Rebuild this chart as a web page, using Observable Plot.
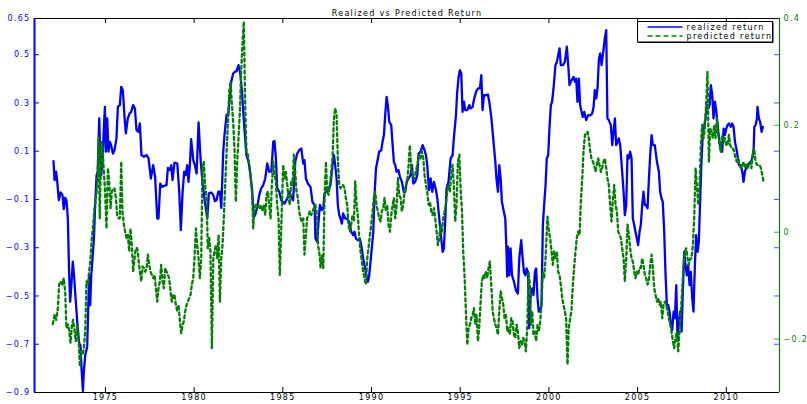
<!DOCTYPE html>
<html><head><meta charset="utf-8">
<script src="https://cdn.jsdelivr.net/npm/d3@7"></script>
<script src="https://cdn.jsdelivr.net/npm/@observablehq/plot@0.6"></script>
<style>
html,body{margin:0;padding:0;background:#fff;}
#chart svg text{letter-spacing:1.3px;}
</style></head><body><div id="chart"></div>
<script>
const title = "Realized vs Predicted Return";
const seriesNames = ["realized return", "predicted return"];
const xTicks = [1975, 1980, 1985, 1990, 1995, 2000, 2005, 2010];
const leftTicks = [-0.9, -0.7, -0.5, -0.3, -0.1, 0.1, 0.3, 0.5, 0.65];
const rightTicks = [-0.2, 0, 0.2, 0.4];
const xDomain = [1971, 2013];
const leftDomain = [-0.9, 0.65];
const rightDomain = [-0.3, 0.4];

// realized return (left axis): [year, value]
const realized = [
[1972.07,0.059],[1972.13,-0.02],[1972.22,0.015],[1972.28,-0.024],[1972.37,-0.103],[1972.47,-0.071],[1972.58,-0.082],[1972.65,-0.14],[1972.73,-0.093],[1972.80,-0.103],[1972.88,-0.179],[1972.95,-0.40],[1973.01,-0.524],[1973.09,-0.441],[1973.16,-0.358],[1973.24,-0.427],[1973.33,-0.524],[1973.42,-0.62],[1973.52,-0.697],[1973.59,-0.704],[1973.65,-0.80],[1973.73,-0.894],[1973.78,-0.814],[1973.86,-0.745],[1973.97,-0.71],[1974.03,-0.55],[1974.08,-0.414],[1974.14,-0.538],[1974.20,-0.414],[1974.27,-0.344],[1974.35,-0.262],[1974.42,-0.123],[1974.50,0.001],[1974.57,0.015],[1974.65,0.236],[1974.70,0.098],[1974.76,0.001],[1974.83,0.056],[1974.91,0.194],[1974.97,0.284],[1975.02,0.098],[1975.10,0.236],[1975.17,0.098],[1975.25,0.139],[1975.32,0.125],[1975.42,0.09],[1975.51,0.104],[1975.62,0.153],[1975.70,0.284],[1975.81,0.291],[1975.89,0.367],[1975.98,0.353],[1976.08,0.236],[1976.15,0.174],[1976.26,0.236],[1976.36,0.256],[1976.45,0.263],[1976.56,0.291],[1976.66,0.277],[1976.75,0.187],[1976.86,0.18],[1976.94,0.215],[1977.03,0.084],[1977.17,0.077],[1977.32,0.084],[1977.43,0.07],[1977.56,-0.013],[1977.69,0.042],[1977.80,-0.006],[1977.92,-0.179],[1977.99,-0.179],[1978.09,-0.034],[1978.18,-0.048],[1978.33,-0.043],[1978.44,-0.041],[1978.52,0.031],[1978.63,0.022],[1978.71,0.042],[1978.78,-0.02],[1978.89,0.053],[1979.05,0.049],[1979.16,-0.068],[1979.25,-0.227],[1979.35,-0.068],[1979.44,0.015],[1979.52,0.001],[1979.61,0.042],[1979.68,-0.027],[1979.76,0.042],[1979.83,0.15],[1979.95,0.063],[1980.04,0.042],[1980.14,0.008],[1980.25,0.219],[1980.36,0.07],[1980.45,-0.013],[1980.59,-0.103],[1980.74,-0.179],[1980.83,-0.075],[1980.96,-0.071],[1981.08,-0.082],[1981.17,-0.107],[1981.26,-0.103],[1981.36,-0.068],[1981.45,-0.068],[1981.53,-0.135],[1981.64,0.098],[1981.71,0.167],[1981.83,0.252],[1981.92,0.249],[1982.00,0.319],[1982.09,0.388],[1982.20,0.422],[1982.30,0.429],[1982.39,0.432],[1982.50,0.457],[1982.60,0.422],[1982.69,0.353],[1982.77,0.263],[1982.86,0.167],[1982.95,0.084],[1983.07,0.056],[1983.16,0.008],[1983.26,-0.054],[1983.37,-0.172],[1983.44,-0.165],[1983.56,-0.13],[1983.67,-0.082],[1983.78,-0.054],[1983.89,-0.041],[1984.01,-0.013],[1984.12,0.049],[1984.23,0.015],[1984.35,0.015],[1984.46,0.139],[1984.53,0.142],[1984.61,0.07],[1984.68,-0.054],[1984.80,-0.068],[1984.91,-0.103],
[1985.10,-0.117],[1985.25,-0.096],[1985.36,-0.068],[1985.47,-0.089],[1985.58,-0.103],[1985.70,0.056],[1985.81,0.09],[1985.92,0.104],[1986.04,0.111],[1986.15,0.049],[1986.22,0.063],[1986.30,-0.013],[1986.41,-0.034],[1986.56,-0.048],[1986.67,-0.11],[1986.79,-0.123],[1986.84,-0.262],[1986.94,-0.276],[1987.01,-0.193],[1987.09,-0.123],[1987.20,-0.144],[1987.28,-0.137],[1987.35,-0.075],[1987.46,-0.068],[1987.58,-0.054],[1987.69,-0.041],[1987.80,0.042],[1987.88,0.084],[1987.95,0.042],[1988.03,-0.013],[1988.10,-0.123],[1988.18,-0.165],[1988.25,-0.179],[1988.33,-0.2],[1988.40,-0.158],[1988.52,-0.179],[1988.63,-0.179],[1988.74,-0.193],[1988.86,-0.234],[1988.97,-0.248],[1989.04,-0.234],[1989.12,-0.262],[1989.23,-0.269],[1989.34,-0.262],[1989.42,-0.289],[1989.53,-0.344],[1989.64,-0.386],[1989.72,-0.42],[1989.80,-0.441],[1989.87,-0.414],[1989.98,-0.33],[1990.10,-0.234],[1990.17,-0.082],[1990.25,0.028],[1990.36,0.07],[1990.43,0.098],[1990.55,0.104],[1990.62,0.139],[1990.70,0.167],[1990.77,0.249],[1990.85,0.325],[1990.92,0.291],[1991.00,0.222],[1991.11,0.208],[1991.19,0.125],[1991.26,0.056],[1991.34,0.042],[1991.41,0.015],[1991.52,0.022],[1991.60,-0.006],[1991.71,-0.027],[1991.82,-0.068],[1991.90,-0.068],[1991.98,-0.027],[1992.09,-0.013],[1992.20,0.001],[1992.28,0.042],[1992.35,-0.034],[1992.46,-0.027],[1992.58,0.001],[1992.65,0.09],[1992.77,0.098],[1992.88,0.125],[1992.99,0.104],[1993.07,0.084],[1993.14,0.042],[1993.24,-0.061],[1993.33,-0.013],[1993.42,-0.068],[1993.52,-0.027],[1993.63,-0.061],[1993.71,-0.096],[1993.82,-0.179],[1993.93,-0.262],[1994.01,-0.317],[1994.08,-0.303],[1994.16,-0.179],[1994.23,-0.054],[1994.34,-0.027],[1994.46,0.07],[1994.57,0.084],[1994.64,0.153],[1994.76,0.249],[1994.83,0.346],[1994.91,0.408],[1994.98,0.436],[1995.06,0.422],[1995.13,0.263],[1995.21,0.305],[1995.28,0.27],[1995.40,0.27],[1995.51,0.291],[1995.58,0.277],[1995.70,0.284],[1995.77,0.312],[1995.89,0.346],[1996.00,0.36],[1996.11,0.36],[1996.19,0.415],[1996.26,0.27],[1996.34,0.332],[1996.45,0.332],[1996.56,0.335],[1996.64,0.305],[1996.75,0.242],[1996.86,0.153],[1996.98,0.056],[1997.05,-0.02],[1997.13,-0.068],[1997.20,0.042],[1997.28,-0.013],[1997.35,-0.11],[1997.46,-0.151],[1997.54,-0.179],[1997.61,-0.317],[1997.65,-0.42],[1997.69,-0.296],[1997.77,-0.414],[1997.84,-0.303],[1997.92,-0.414],[1998.03,-0.441],[1998.14,-0.476],[1998.25,-0.49],[1998.33,-0.344],[1998.44,-0.269],[1998.52,-0.344],[1998.59,-0.40],[1998.67,-0.414],[1998.74,-0.386],[1998.82,-0.40],[1998.89,-0.634],
[1998.98,-0.483],[1999.06,-0.469],[1999.13,-0.496],[1999.21,-0.40],[1999.28,-0.386],[1999.36,-0.51],[1999.43,-0.565],[1999.51,-0.565],[1999.58,-0.538],[1999.66,-0.206],[1999.73,-0.123],[1999.81,-0.041],[1999.88,0.07],[1999.96,0.084],[2000.03,0.194],[2000.11,0.291],[2000.18,0.305],[2000.26,0.36],[2000.37,0.457],[2000.45,0.47],[2000.52,0.498],[2000.60,0.526],[2000.67,0.457],[2000.79,0.457],[2000.90,0.47],[2001.01,0.533],[2001.09,0.457],[2001.16,0.374],[2001.27,0.394],[2001.39,0.408],[2001.46,0.388],[2001.54,0.401],[2001.61,0.305],[2001.69,0.401],[2001.76,0.291],[2001.84,0.263],[2001.91,0.242],[2001.99,0.263],[2002.10,0.229],[2002.21,0.249],[2002.33,0.249],[2002.44,0.256],[2002.52,0.284],[2002.59,0.353],[2002.67,0.319],[2002.74,0.36],[2002.82,0.484],[2002.89,0.505],[2002.97,0.457],[2003.04,0.498],[2003.15,0.567],[2003.23,0.602],[2003.30,0.236],[2003.38,0.229],[2003.49,0.208],[2003.57,0.125],[2003.64,0.18],[2003.72,0.236],[2003.79,0.125],[2003.87,0.139],[2003.94,0.153],[2004.02,0.125],[2004.13,0.015],[2004.21,-0.068],[2004.28,-0.165],[2004.36,-0.123],[2004.43,0.084],[2004.51,0.07],[2004.58,0.098],[2004.66,0.07],[2004.73,-0.179],[2004.81,-0.206],[2004.88,-0.234],[2004.96,-0.262],[2005.03,-0.289],[2005.11,-0.234],[2005.18,-0.206],[2005.26,-0.123],[2005.33,-0.068],[2005.41,-0.123],[2005.48,-0.123],[2005.56,-0.137],[2005.63,-0.027],[2005.71,0.084],[2005.79,0.167],[2005.86,0.125],[2005.97,0.125],[2006.09,0.056],[2006.20,0.015],[2006.27,-0.068],[2006.35,-0.096],[2006.42,-0.11],[2006.50,-0.234],[2006.57,-0.40],[2006.65,-0.538],[2006.73,-0.538],[2006.80,-0.565],[2006.88,-0.62],[2006.95,-0.641],[2007.03,-0.565],[2007.10,-0.593],[2007.18,-0.455],[2007.25,-0.676],[2007.33,-0.607],[2007.40,-0.565],[2007.48,-0.648],[2007.55,-0.483],[2007.63,-0.317],[2007.70,-0.372],[2007.78,-0.414],[2007.85,-0.372],[2007.93,-0.455],[2008.00,-0.40],[2008.08,-0.51],[2008.15,-0.565],[2008.23,-0.372],[2008.30,-0.248],[2008.38,-0.317],[2008.45,-0.276],[2008.53,-0.096],[2008.60,0.056],[2008.68,0.18],[2008.76,0.208],[2008.83,0.236],[2008.91,0.291],[2008.98,0.277],[2009.06,0.291],[2009.13,0.374],[2009.21,0.332],[2009.28,0.236],[2009.36,0.305],[2009.43,0.27],[2009.55,0.18],[2009.62,0.139],[2009.70,0.098],[2009.77,0.098],[2009.85,0.194],[2009.92,0.167],[2010.00,0.194],[2010.07,0.208],[2010.15,0.215],[2010.26,0.201],[2010.33,0.215],[2010.41,0.201],[2010.49,0.139],[2010.60,0.098],[2010.71,0.042],[2010.82,0.042],[2010.90,0.015],[2010.97,-0.027],[2011.05,0.015],[2011.16,0.042],[2011.27,0.049],[2011.39,0.056],[2011.46,0.07],[2011.54,0.098],[2011.58,0.201],[2011.65,0.208],[2011.73,0.236],[2011.76,0.284],[2011.84,0.236],[2011.91,0.222],[2011.99,0.18],[2012.06,0.201]
];

// predicted return (right axis): [year, value]
const predicted = [
[1972.03,-0.172],[1972.13,-0.155],[1972.22,-0.164],[1972.32,-0.142],[1972.39,-0.098],[1972.47,-0.092],[1972.58,-0.098],[1972.65,-0.086],[1972.73,-0.111],[1972.80,-0.179],[1972.88,-0.173],[1972.95,-0.183],[1973.03,-0.207],[1973.11,-0.173],[1973.18,-0.164],[1973.26,-0.186],[1973.33,-0.204],[1973.41,-0.173],[1973.48,-0.198],[1973.56,-0.251],[1973.63,-0.223],[1973.71,-0.229],[1973.78,-0.217],[1973.86,-0.186],[1973.93,-0.092],[1974.01,-0.098],[1974.08,-0.074],[1974.16,-0.049],[1974.23,-0.011],[1974.31,0.014],[1974.38,0.045],[1974.46,0.064],[1974.53,0.082],[1974.61,0.176],[1974.68,0.026],[1974.76,0.169],[1974.83,0.163],[1974.91,0.113],[1974.98,0.076],[1975.06,0.007],[1975.14,0.12],[1975.21,0.095],[1975.29,0.045],[1975.36,0.076],[1975.44,0.082],[1975.51,0.082],[1975.59,0.064],[1975.66,0.032],[1975.74,0.026],[1975.81,0.026],[1975.89,0.132],[1975.96,0.039],[1976.04,0.014],[1976.11,0.001],[1976.19,-0.011],[1976.26,-0.005],[1976.34,-0.036],[1976.41,0.007],[1976.49,-0.024],[1976.56,-0.074],[1976.64,-0.049],[1976.71,-0.03],[1976.79,-0.03],[1976.86,-0.049],[1976.94,-0.074],[1977.02,-0.092],[1977.09,-0.064],[1977.17,-0.067],[1977.24,-0.074],[1977.32,-0.067],[1977.39,-0.042],[1977.47,-0.061],[1977.54,-0.074],[1977.62,-0.08],[1977.69,-0.086],[1977.77,-0.08],[1977.84,-0.105],[1977.92,-0.13],[1977.99,-0.105],[1978.07,-0.092],[1978.14,-0.061],[1978.22,-0.092],[1978.29,-0.105],[1978.37,-0.067],[1978.44,-0.074],[1978.52,-0.08],[1978.59,-0.086],[1978.67,-0.111],[1978.74,-0.13],[1978.82,-0.117],[1978.89,-0.117],[1978.97,-0.136],[1979.05,-0.148],[1979.12,-0.136],[1979.20,-0.167],[1979.27,-0.189],[1979.35,-0.173],[1979.42,-0.167],[1979.50,-0.148],[1979.57,-0.136],[1979.65,-0.13],[1979.72,-0.123],[1979.80,-0.117],[1979.87,-0.098],[1979.95,-0.086],[1980.02,-0.049],[1980.10,0.007],[1980.17,-0.024],[1980.25,-0.049],[1980.32,-0.086],[1980.40,-0.049],[1980.47,0.126],[1980.55,0.132],[1980.62,0.088],[1980.70,0.064],[1980.77,-0.03],[1980.85,-0.011],[1980.92,-0.036],[1981.00,-0.217],[1981.08,-0.049],[1981.15,-0.036],[1981.23,-0.024],[1981.30,-0.049],[1981.38,-0.005],[1981.45,-0.13],[1981.53,-0.049],[1981.60,-0.024],[1981.68,0.032],[1981.75,0.088],[1981.83,0.151],[1981.90,0.201],[1981.98,0.263],[1982.05,0.282],[1982.13,0.238],[1982.20,0.207],[1982.28,0.151],[1982.35,0.057],[1982.43,0.132],[1982.50,0.176],[1982.58,0.226],[1982.65,0.30],[1982.73,0.356],[1982.80,0.394],[1982.88,0.232],[1982.95,0.151],[1983.03,0.145],[1983.11,0.126],[1983.18,0.107],[1983.26,0.076],[1983.33,0.007],[1983.41,0.045],[1983.48,0.051],[1983.56,0.045],[1983.63,0.051],[1983.71,0.045],[1983.78,0.051],[1983.86,0.039],[1983.93,0.051],[1984.01,0.032],[1984.08,0.07],[1984.16,0.076],[1984.23,0.051],[1984.31,0.026],[1984.38,0.088],[1984.46,0.132],[1984.53,0.107],[1984.61,0.095],[1984.68,0.051],[1984.76,0.026],[1984.83,-0.08],
[1984.95,0.051],[1985.02,0.126],[1985.10,0.101],[1985.17,0.113],[1985.25,0.088],[1985.32,0.064],[1985.40,0.051],[1985.47,0.095],[1985.55,0.088],[1985.62,0.145],[1985.70,0.113],[1985.77,0.076],[1985.85,0.064],[1985.92,0.039],[1986.00,0.026],[1986.07,0.02],[1986.15,0.026],[1986.22,-0.042],[1986.30,-0.005],[1986.37,0.026],[1986.45,0.032],[1986.52,0.039],[1986.60,0.032],[1986.67,0.039],[1986.75,0.045],[1986.83,0.051],[1986.90,0.039],[1986.98,-0.024],[1987.05,-0.036],[1987.13,-0.067],[1987.20,-0.042],[1987.28,-0.067],[1987.35,0.064],[1987.43,0.132],[1987.50,0.076],[1987.58,0.07],[1987.65,0.088],[1987.73,0.113],[1987.80,0.138],[1987.88,0.213],[1987.95,0.232],[1988.03,0.219],[1988.10,0.138],[1988.18,0.088],[1988.25,0.082],[1988.33,0.088],[1988.40,0.088],[1988.48,0.082],[1988.55,0.064],[1988.63,0.051],[1988.70,0.014],[1988.78,0.001],[1988.85,0.014],[1988.93,0.032],[1989.01,0.02],[1989.08,0.095],[1989.16,0.051],[1989.23,0.032],[1989.31,-0.011],[1989.38,-0.036],[1989.46,-0.055],[1989.53,-0.074],[1989.61,-0.086],[1989.68,-0.098],[1989.76,-0.049],[1989.83,-0.03],[1989.91,-0.005],[1989.98,0.014],[1990.06,0.039],[1990.13,0.064],[1990.21,0.076],[1990.28,0.051],[1990.36,0.039],[1990.43,0.026],[1990.51,0.02],[1990.58,0.039],[1990.66,0.045],[1990.73,0.064],[1990.81,0.039],[1990.88,0.051],[1990.96,0.014],[1991.04,0.001],[1991.11,0.032],[1991.19,0.051],[1991.26,0.064],[1991.34,0.026],[1991.41,0.045],[1991.49,0.101],[1991.56,0.07],[1991.64,0.064],[1991.71,0.039],[1991.79,0.051],[1991.86,0.076],[1991.94,0.088],[1992.01,0.095],[1992.09,0.126],[1992.16,0.163],[1992.24,0.12],[1992.31,0.107],[1992.39,0.101],[1992.46,0.107],[1992.54,0.12],[1992.61,0.132],[1992.69,0.145],[1992.76,0.138],[1992.84,0.151],[1992.92,0.138],[1992.99,0.107],[1993.07,0.088],[1993.14,0.076],[1993.22,0.051],[1993.29,0.057],[1993.37,0.039],[1993.44,0.032],[1993.52,0.045],[1993.59,0.026],[1993.67,0.001],[1993.74,-0.024],[1993.82,-0.011],[1993.89,0.014],[1993.97,0.001],[1994.04,0.026],[1994.12,0.039],[1994.19,0.051],[1994.27,0.076],[1994.34,0.088],[1994.42,0.076],[1994.49,0.107],[1994.57,0.126],[1994.64,0.088],[1994.72,0.02],[1994.79,0.051],[1994.87,0.132],[1994.95,0.145],[1995.02,0.082],[1995.10,0.039],[1995.17,-0.036],[1995.25,-0.086],[1995.32,-0.148],[1995.40,-0.211],[1995.47,-0.179],[1995.55,-0.173],[1995.62,-0.161],[1995.70,-0.155],[1995.77,-0.142],[1995.85,-0.173],[1995.92,-0.155],[1996.00,-0.204],[1996.07,-0.179],[1996.15,-0.13],[1996.22,-0.092],[1996.30,-0.08],[1996.37,-0.086],[1996.45,-0.074],[1996.52,-0.086],[1996.60,-0.067],[1996.67,-0.055],[1996.75,-0.098],[1996.83,-0.148],[1996.90,-0.161],[1996.98,-0.173],[1997.05,-0.179],[1997.13,-0.192],[1997.20,-0.148],[1997.28,-0.111],[1997.35,-0.123],[1997.43,-0.136],[1997.50,-0.161],[1997.58,-0.155],[1997.65,-0.186],[1997.73,-0.179],[1997.80,-0.192],[1997.88,-0.161],[1997.95,-0.167],[1998.03,-0.192],[1998.10,-0.198],[1998.18,-0.173],[1998.25,-0.186],[1998.33,-0.217],[1998.40,-0.204],[1998.48,-0.211],[1998.55,-0.198],[1998.63,-0.204],[1998.70,-0.223],[1998.78,-0.179],[1998.85,-0.074],[1998.93,-0.098],
[1998.98,-0.173],[1999.06,-0.148],[1999.13,-0.192],[1999.21,-0.186],[1999.28,-0.204],[1999.36,-0.173],[1999.43,-0.186],[1999.51,-0.167],[1999.58,-0.136],[1999.66,-0.074],[1999.73,-0.086],[1999.81,-0.049],[1999.88,0.001],[1999.92,0.029],[2000.00,0.001],[2000.07,-0.011],[2000.15,-0.036],[2000.22,-0.061],[2000.30,-0.036],[2000.37,-0.049],[2000.45,-0.036],[2000.52,-0.074],[2000.60,-0.08],[2000.67,-0.098],[2000.75,-0.123],[2000.82,-0.136],[2000.90,-0.148],[2000.97,-0.161],[2001.05,-0.248],[2001.12,-0.179],[2001.20,-0.161],[2001.27,-0.148],[2001.35,-0.098],[2001.42,-0.067],[2001.50,-0.036],[2001.57,-0.011],[2001.65,0.001],[2001.73,-0.005],[2001.80,0.057],[2001.88,0.101],[2001.95,0.151],[2002.03,0.182],[2002.10,0.185],[2002.18,0.188],[2002.25,0.176],[2002.33,0.151],[2002.40,0.138],[2002.48,0.132],[2002.55,0.126],[2002.63,0.113],[2002.70,0.126],[2002.78,0.138],[2002.85,0.126],[2002.93,0.113],[2003.00,0.12],[2003.08,0.132],[2003.15,0.138],[2003.23,0.12],[2003.30,0.101],[2003.38,0.088],[2003.45,0.051],[2003.53,0.02],[2003.60,0.057],[2003.68,0.088],[2003.76,0.051],[2003.83,0.039],[2003.91,0.001],[2003.98,-0.005],[2004.06,-0.011],[2004.13,-0.03],[2004.21,-0.049],[2004.28,-0.092],[2004.36,-0.049],[2004.43,0.014],[2004.51,-0.005],[2004.58,-0.03],[2004.66,-0.049],[2004.73,-0.055],[2004.81,-0.074],[2004.88,-0.086],[2004.96,-0.074],[2005.03,-0.08],[2005.11,-0.067],[2005.18,-0.067],[2005.26,-0.049],[2005.33,-0.061],[2005.41,-0.08],[2005.48,-0.086],[2005.56,-0.098],[2005.63,-0.092],[2005.71,-0.061],[2005.79,-0.042],[2005.86,-0.067],[2005.94,-0.105],[2006.01,-0.117],[2006.09,-0.13],[2006.16,-0.123],[2006.24,-0.136],[2006.31,-0.13],[2006.39,-0.161],[2006.46,-0.136],[2006.54,-0.13],[2006.61,-0.136],[2006.69,-0.148],[2006.76,-0.161],[2006.84,-0.173],[2006.91,-0.186],[2006.99,-0.204],[2007.06,-0.217],[2007.14,-0.198],[2007.21,-0.186],[2007.29,-0.223],[2007.36,-0.186],[2007.44,-0.148],[2007.51,-0.111],[2007.59,-0.061],[2007.66,-0.036],[2007.74,-0.03],[2007.82,-0.049],[2007.89,-0.061],[2007.97,-0.049],[2008.04,-0.049],[2008.12,-0.024],[2008.19,0.026],[2008.27,0.12],[2008.34,0.088],[2008.42,0.051],[2008.49,0.088],[2008.57,0.163],[2008.64,0.201],[2008.72,0.176],[2008.79,0.194],[2008.87,0.244],[2008.94,0.30],[2009.02,0.132],[2009.09,0.194],[2009.17,0.188],[2009.24,0.176],[2009.32,0.201],[2009.39,0.176],[2009.47,0.213],[2009.54,0.188],[2009.62,0.163],[2009.70,0.151],[2009.77,0.182],[2009.85,0.17],[2009.92,0.176],[2010.00,0.163],[2010.07,0.163],[2010.15,0.182],[2010.22,0.163],[2010.30,0.157],[2010.37,0.157],[2010.45,0.151],[2010.52,0.138],[2010.60,0.132],[2010.67,0.138],[2010.75,0.126],[2010.82,0.12],[2010.90,0.126],[2010.97,0.132],[2011.05,0.12],[2011.12,0.126],[2011.20,0.12],[2011.27,0.126],[2011.35,0.132],[2011.42,0.12],[2011.50,0.151],[2011.57,0.157],[2011.65,0.132],[2011.73,0.126],[2011.80,0.126],[2011.88,0.126],[2011.95,0.12],[2012.03,0.107],[2012.10,0.095]
];

const BLUE = "#0000ff", GREEN = "#008000";
const W = 807, H = 404, mL = 34, mR = 28, mT = 18, mB = 12;
const innerW = W - mL - mR, innerH = H - mT - mB;
const TICK = 5;
const toLeft = v => leftDomain[0] + (v - rightDomain[0]) / (rightDomain[1] - rightDomain[0]) * (leftDomain[1] - leftDomain[0]);
const fromLeft = u => rightDomain[0] + (u - leftDomain[0]) / (leftDomain[1] - leftDomain[0]) * (rightDomain[1] - rightDomain[0]);
const fmt = d => { const r = Math.round(d * 100) / 100; return (r < 0 ? "\u2212" : "") + String(Math.abs(r)); };
const rightPos = rightTicks.map(toLeft);

const chart = Plot.plot({
  width: W, height: H,
  marginLeft: mL, marginRight: mR, marginTop: mT, marginBottom: mB,
  x: {domain: xDomain, label: null},
  y: {domain: leftDomain, label: null},
  style: {fontFamily: "'DejaVu Sans', sans-serif", fontSize: "8px", background: "#fff", color: "#000"},
  marks: [
    Plot.line(realized, {x: d => d[0], y: d => d[1], stroke: BLUE, strokeWidth: 2.3}),
    Plot.line(predicted, {x: d => d[0], y: d => toLeft(d[1]), stroke: GREEN, strokeWidth: 2.3, strokeDasharray: "3,3"}),
    Plot.gridX(xTicks, {stroke: "#000", strokeOpacity: 1, insetTop: innerH - TICK}),
    Plot.gridX(xTicks, {stroke: "#000", strokeOpacity: 1, insetBottom: innerH - TICK}),
    Plot.gridY(leftTicks, {stroke: BLUE, strokeOpacity: 1, insetRight: innerW - TICK}),
    Plot.gridY(leftTicks, {stroke: BLUE, strokeOpacity: 0.7, insetLeft: innerW - TICK}),
    Plot.gridY(rightPos, {stroke: GREEN, strokeOpacity: 0.7, insetLeft: innerW - TICK}),
    Plot.ruleY([leftDomain[0], leftDomain[1]], {stroke: "#000"}),
    Plot.ruleX([xDomain[0]], {stroke: BLUE, strokeWidth: 2}),
    Plot.ruleX([xDomain[1]], {stroke: GREEN, strokeWidth: 1.2}),
    Plot.axisX({ticks: xTicks, anchor: "bottom", tickSize: 0, tickPadding: 2, tickFormat: d => String(d), label: null}),
    Plot.axisY({ticks: leftTicks, anchor: "left", tickSize: 0, tickPadding: 4, tickFormat: fmt, color: BLUE, fill: BLUE, label: null}),
    Plot.axisY({ticks: rightPos, anchor: "right", tickSize: 0, tickPadding: 4, tickFormat: d => fmt(fromLeft(d)), color: GREEN, fill: GREEN, label: null}),
    Plot.text([title], {frameAnchor: "top", dy: -8, text: d => d, fill: "#000", fontSize: 8})
  ]
});

// legend
const svg = d3.select(chart);
const lg = svg.append("g").attr("font-family", "'DejaVu Sans', sans-serif").attr("font-size", 8).attr("text-anchor", "start");
const lx = 637.5, ly = 21.5, lw = 135, lh = 20.5;
lg.append("rect").attr("x", lx).attr("y", ly).attr("width", lw).attr("height", lh)
  .attr("fill", "#fff").attr("stroke", "#000").attr("stroke-width", 1);
lg.append("path").attr("d", `M${lx + lw + 0.5},${ly + 1}V${ly + lh + 0.5}H${lx + 1}`)
  .attr("fill", "none").attr("stroke", "#000").attr("stroke-width", 1);
const rows = [{name: seriesNames[0], color: BLUE, dash: null}, {name: seriesNames[1], color: GREEN, dash: "5,3"}];
rows.forEach((r, i) => {
  const y = ly + 5.5 + i * 9;
  lg.append("line").attr("x1", lx + 10).attr("x2", lx + 45).attr("y1", y).attr("y2", y)
    .attr("stroke", r.color).attr("stroke-width", 1.5).attr("stroke-dasharray", r.dash);
  lg.append("text").attr("x", lx + 49).attr("y", y).attr("dy", "0.35em").attr("text-anchor", "start").attr("fill", "#000").text(r.name);
});

document.getElementById("chart").appendChild(chart);
</script>
</body></html>
